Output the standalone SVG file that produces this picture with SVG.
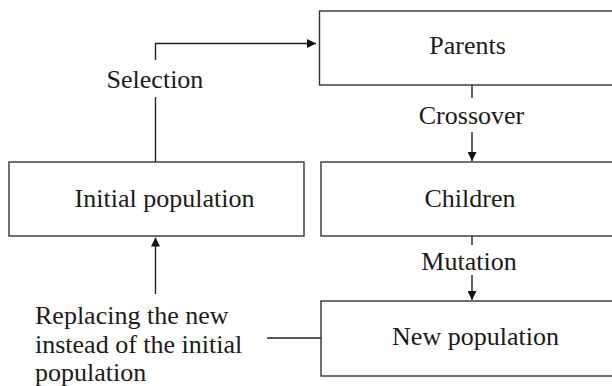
<svg xmlns="http://www.w3.org/2000/svg" width="612" height="386" viewBox="0 0 612 386">
<defs>
<marker id="ah" viewBox="0 0 10 10" refX="10" refY="5" markerWidth="9" markerHeight="9" markerUnits="userSpaceOnUse" orient="auto">
<path d="M0,0 L10,5 L0,10 Z" fill="#111"/>
</marker>
<style>
.box{fill:#fff;stroke:#333;stroke-width:1.4}
.t{font-family:"Liberation Serif","Times New Roman",serif;font-size:26px;fill:#1a1a1a}
.c{text-anchor:middle}
.ln{fill:none;stroke:#222;stroke-width:1.4}
</style>
</defs>
<rect width="612" height="386" fill="#fff"/>
<g id="connectors">
<polyline class="ln" points="155.5,162 155.5,97"/>
<polyline class="ln" points="155.5,60 155.5,43.5 316,43.5" marker-end="url(#ah)"/>
<line class="ln" x1="472" y1="85" x2="472" y2="98"/>
<line class="ln" x1="472" y1="132" x2="472" y2="161" marker-end="url(#ah)"/>
<line class="ln" x1="472" y1="236" x2="472" y2="245"/>
<line class="ln" x1="472" y1="275" x2="472" y2="300" marker-end="url(#ah)"/>
<line class="ln" x1="155.5" y1="294" x2="155.5" y2="237.5" marker-end="url(#ah)"/>
<line class="ln" x1="267" y1="338" x2="321" y2="338"/>
<text class="t c" x="155" y="88">Selection</text>
<text class="t c" x="471.5" y="124">Crossover</text>
<text class="t c" x="469" y="270">Mutation</text>
<text class="t" x="35" y="324">Replacing the new</text>
<text class="t" x="35" y="353">instead of the initial</text>
<text class="t" x="35" y="381">population</text>
</g>
<g id="parents">
<rect class="box" x="319.5" y="11" width="300" height="74"/>
<text class="t c" x="467.5" y="54">Parents</text>
</g>
<g id="children">
<rect class="box" x="321" y="162" width="300" height="74"/>
<text class="t c" x="470" y="207">Children</text>
</g>
<g id="new-population">
<rect class="box" x="321" y="301" width="300" height="75"/>
<text class="t c" x="475.5" y="345">New population</text>
</g>
<g id="initial-population">
<rect class="box" x="9" y="162" width="295" height="74"/>
<text class="t c" x="164.5" y="207">Initial population</text>
</g>
</svg>
